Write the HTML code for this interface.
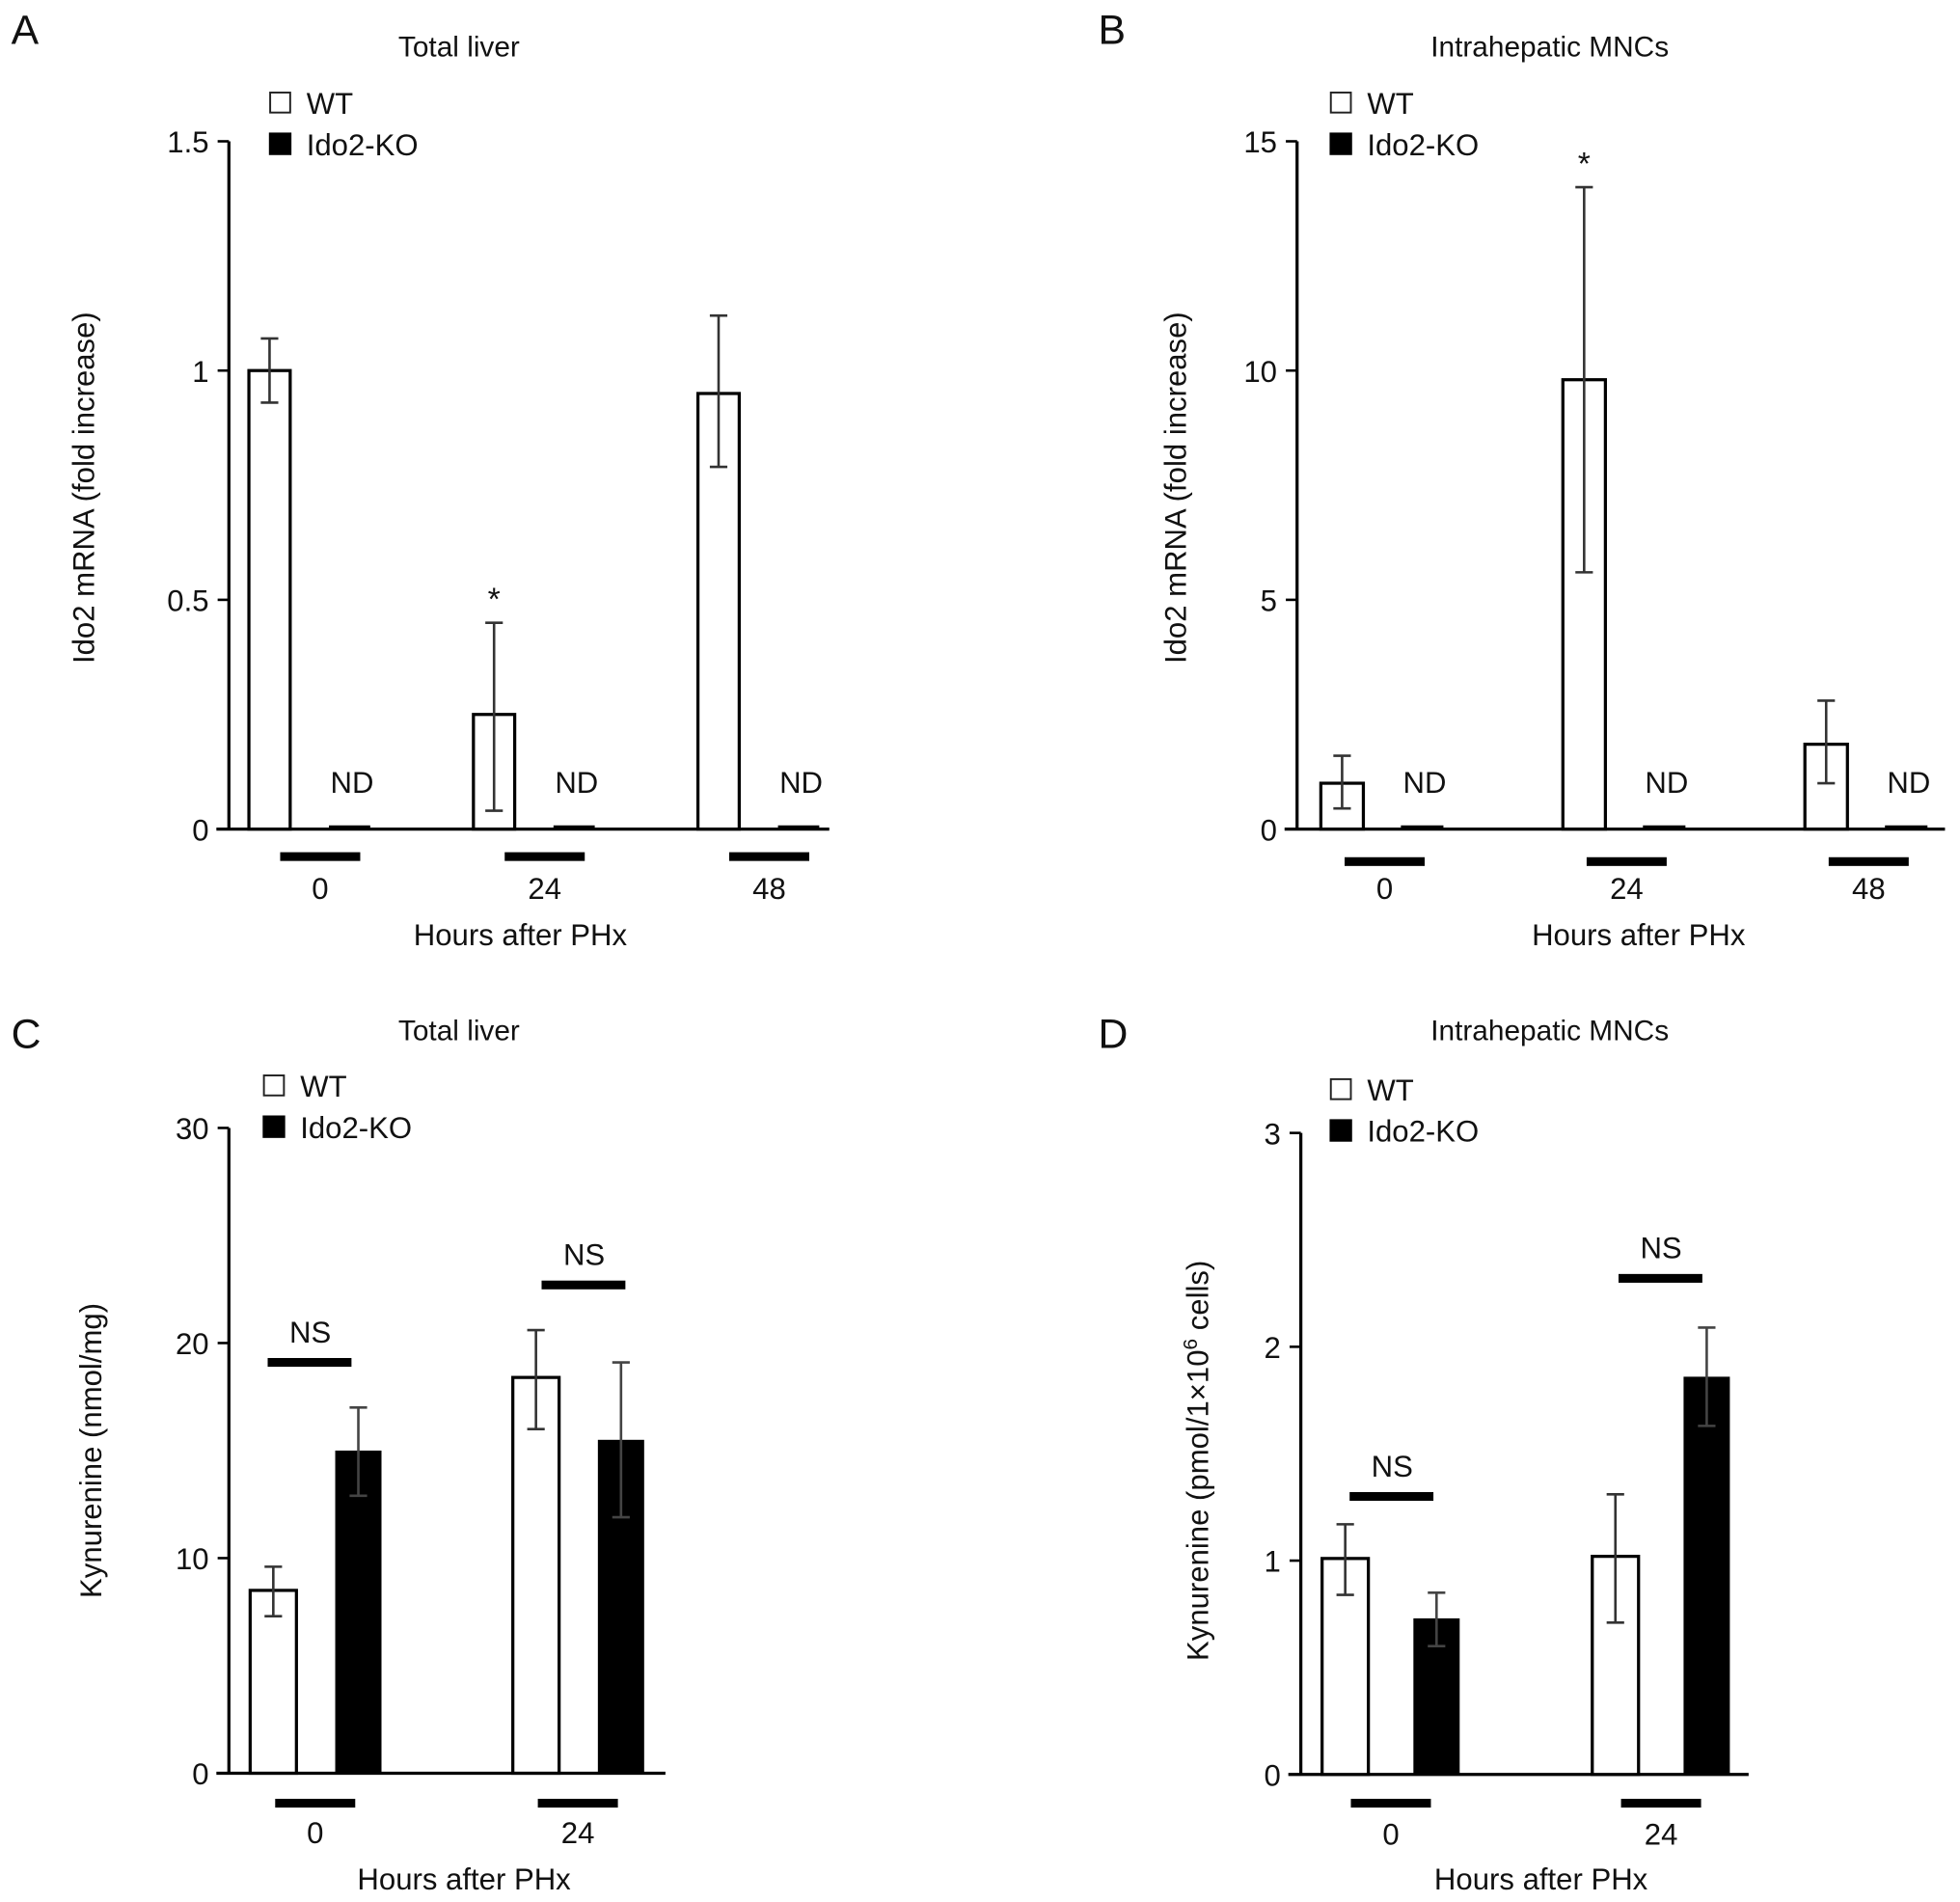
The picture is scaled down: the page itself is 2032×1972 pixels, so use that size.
<!DOCTYPE html>
<html><head><meta charset="utf-8"><style>
html,body{margin:0;padding:0;background:#fff}
svg{display:block}
text{font-family:"Liberation Sans",Arial,sans-serif;fill:#111}
</style></head><body>
<svg id="fig" width="2032" height="1972" viewBox="0 0 1567 1521" preserveAspectRatio="none" xmlns="http://www.w3.org/2000/svg"></svg>
<script>
// Panel A data
const aCats = ["0","24","48"];
const aWT = [1.0, 0.25, 0.95];
const aWTlo = [0.93, 0.04, 0.79];
const aWThi = [1.07, 0.45, 1.12];
const aTicks = [0, 0.5, 1, 1.5];
const aTickLabels = ["0","0.5","1","1.5"];
// Panel B data
const bCats = ["0","24","48"];
const bWT = [1.0, 9.8, 1.85];
const bWTlo = [0.45, 5.6, 1.0];
const bWThi = [1.6, 14.0, 2.8];
const bTicks = [0, 5, 10, 15];
const bTickLabels = ["0","5","10","15"];
// Panel C data
const cCats = ["0","24"];
const cWT = [8.5, 18.4];
const cWTlo = [7.3, 16.0];
const cWThi = [9.6, 20.6];
const cKO = [15.0, 15.5];
const cKOlo = [12.9, 11.9];
const cKOhi = [17.0, 19.1];
const cNS = [19.1, 22.7];
const cTicks = [0, 10, 20, 30];
const cTickLabels = ["0","10","20","30"];
// Panel D data
const dCats = ["0","24"];
const dWT = [1.01, 1.02];
const dWTlo = [0.84, 0.71];
const dWThi = [1.17, 1.31];
const dKO = [0.73, 1.86];
const dKOlo = [0.60, 1.63];
const dKOhi = [0.85, 2.09];
const dNS = [1.30, 2.32];
const dTicks = [0, 1, 2, 3];
const dTickLabels = ["0","1","2","3"];

const NS = "http://www.w3.org/2000/svg";
const svg = document.getElementById('fig');
function mk(tag, attrs, parent){
  const e = document.createElementNS(NS, tag);
  for (const k in attrs) e.setAttribute(k, attrs[k]);
  (parent||svg).appendChild(e);
  return e;
}
function txt(x,y,s,size,anchor,parent){
  const t = mk('text',{x:x,y:y,'font-size':size,'text-anchor':anchor||'middle'},parent);
  t.textContent = s;
  return t;
}

function panel(cfg){
  const g = mk('g',{});
  
  
  const y = v => cfg.y0 + (v - 0) * (cfg.yTop - cfg.y0) / cfg.yMax;
  const L = txt(cfg.letterX, cfg.letterY, cfg.letter, 33, 'start', g);
  
  
  const T = txt(cfg.titleX, cfg.titleY, cfg.title, 23, 'middle', g);
  
  
  const lg = mk('g',{},g);
  
  
  mk('rect',{x:cfg.legX+1,y:cfg.legY+1,width:16,height:16,fill:'#fff',stroke:'#222','stroke-width':1.5},lg);
  txt(cfg.legX+30, cfg.legY+18, 'WT', 24, 'start', lg);
  mk('rect',{x:cfg.legX,y:cfg.legY+33,width:18,height:18,fill:'#000'},lg);
  txt(cfg.legX+30, cfg.legY+51, 'Ido2-KO', 24, 'start', lg);
  const ya = mk('line',{x1:cfg.ax,y1:cfg.yTop,x2:cfg.ax,y2:cfg.y0,stroke:'#000','stroke-width':2.5},g);
  
  
  const xa = mk('line',{x1:cfg.ax-10,y1:cfg.y0,x2:cfg.axEnd,y2:cfg.y0,stroke:'#000','stroke-width':2.5},g);
  
  
  cfg.ticks.forEach((tv,i)=>{
    mk('line',{x1:cfg.ax-9,y1:y(tv),x2:cfg.ax,y2:y(tv),stroke:'#000','stroke-width':2},g);
    const tl = txt(cfg.ax-16, y(tv)+9, cfg.tickLabels[i], 24, 'end', g);
    
    
  });
  const yt = mk('text',{x:0,y:0,'font-size':24,'text-anchor':'middle',transform:`translate(${cfg.yTitleX},${cfg.yTitleY}) rotate(-90)`},g);
  
  
  yt.innerHTML = cfg.yTitle;
  const xt = txt(cfg.xTitleX, cfg.xTitleY, 'Hours after PHx', 24, 'middle', g);
  
  
  cfg.cats.forEach((c,i)=>{
    const gx = cfg.g0 + i*cfg.gStep;
    const wx = gx, kx = gx + cfg.kOff;
    const b = mk('rect',{x:wx,y:y(cfg.wt[i]),width:cfg.bw,height:cfg.y0-y(cfg.wt[i]),fill:'#fff',stroke:'#000','stroke-width':2.5},g);
    
    
    const cx = wx + cfg.bw/2;
    const e = mk('path',{d:`M${cx},${y(cfg.wtlo[i])}V${y(cfg.wthi[i])}M${cx-7},${y(cfg.wtlo[i])}h14M${cx-7},${y(cfg.wthi[i])}h14`,stroke:'#333','stroke-width':2,fill:'none'},g);
    
    
    if (cfg.ko){
      const kb = mk('rect',{x:kx,y:y(cfg.ko[i]),width:cfg.bw,height:cfg.y0-y(cfg.ko[i]),fill:'#000'},g);
      
      
      const kc = kx + cfg.bw/2;
      const ke = mk('path',{d:`M${kc},${y(cfg.kolo[i])}V${y(cfg.kohi[i])}M${kc-7},${y(cfg.kolo[i])}h14M${kc-7},${y(cfg.kohi[i])}h14`,stroke:'#444','stroke-width':2,fill:'none'},g);
      
      
      const ny = y(cfg.ns[i]);
      const off = cfg.nsOff[i];
      const nb = mk('rect',{x:wx+off,y:ny-3.5,width:67,height:7,fill:'#000'},g);
      
      
      const nt = txt(wx+off+34, ny-16, 'NS', 24, 'middle', g);
      
      
    } else {
      mk('line',{x1:kx,y1:cfg.y0-2,x2:kx+cfg.bw,y2:cfg.y0-2,stroke:'#000','stroke-width':2},g);
      const nd = txt(kx+cfg.bw/2+2, cfg.y0-29, 'ND', 24, 'middle', g);
      
      
    }
    const ub = mk('rect',{x:wx+cfg.ubOff,y:cfg.ubY-3.5,width:64,height:7,fill:'#000'},g);
    
    
    const xl = txt(wx+cfg.ubOff+32, cfg.y0+56, c, 24, 'middle', g);
    
    
  });
  if (cfg.star){
    const si = cfg.star;
    const s = txt(cfg.g0+si*cfg.gStep+cfg.bw/2, y(cfg.wthi[si])-10, '*', 26, 'middle', g);
    
    
  }
}

panel({name:'panel-a',letter:'A',letterX:9,letterY:35,title:'Total liver',titleX:367,titleY:45,
  legX:215,legY:73,ax:183,axEnd:663,yTop:113,y0:663,yMax:1.5,ticks:aTicks,tickLabels:aTickLabels,
  yTitle:'Ido2 mRNA (fold increase)',yTitleX:75,yTitleY:390,xTitleX:416,xTitleY:756,
  cats:aCats,wt:aWT,wtlo:aWTlo,wthi:aWThi,g0:199,gStep:179.5,bw:33,kOff:64,ubOff:25,ubY:685,star:1});
panel({name:'panel-b',letter:'B',letterX:878,letterY:35,title:'Intrahepatic MNCs',titleX:1239,titleY:45,
  legX:1063,legY:73,ax:1037,axEnd:1555,yTop:113,y0:663,yMax:15,ticks:bTicks,tickLabels:bTickLabels,
  yTitle:'Ido2 mRNA (fold increase)',yTitleX:948,yTitleY:390,xTitleX:1310,xTitleY:756,
  cats:bCats,wt:bWT,wtlo:bWTlo,wthi:bWThi,g0:1056,gStep:193.5,bw:34,kOff:64,ubOff:19,ubY:689,star:1});
panel({name:'panel-c',letter:'C',letterX:9,letterY:838,title:'Total liver',titleX:367,titleY:832,
  legX:210,legY:859,ax:183,axEnd:532,yTop:902,y0:1418,yMax:30,ticks:cTicks,tickLabels:cTickLabels,
  yTitle:'Kynurenine (nmol/mg)',yTitleX:81,yTitleY:1160,xTitleX:371,xTitleY:1511,
  cats:cCats,wt:cWT,wtlo:cWTlo,wthi:cWThi,ko:cKO,kolo:cKOlo,kohi:cKOhi,ns:cNS,nsOff:[14,23],
  g0:200,gStep:210,bw:37,kOff:68,ubOff:20,ubY:1442});
panel({name:'panel-d',letter:'D',letterX:878,letterY:838,title:'Intrahepatic MNCs',titleX:1239,titleY:832,
  legX:1063,legY:862,ax:1040,axEnd:1398,yTop:906,y0:1419,yMax:3,ticks:dTicks,tickLabels:dTickLabels,
  yTitle:'Kynurenine (pmol/1×10<tspan dy="-9" font-size="16">6</tspan><tspan dy="9"> cells)</tspan>',yTitleX:966,yTitleY:1168,xTitleX:1232,xTitleY:1511,
  cats:dCats,wt:dWT,wtlo:dWTlo,wthi:dWThi,ko:dKO,kolo:dKOlo,kohi:dKOhi,ns:dNS,nsOff:[22,21],
  g0:1057,gStep:216,bw:37,kOff:73,ubOff:23,ubY:1442});
</script>
</body></html>
